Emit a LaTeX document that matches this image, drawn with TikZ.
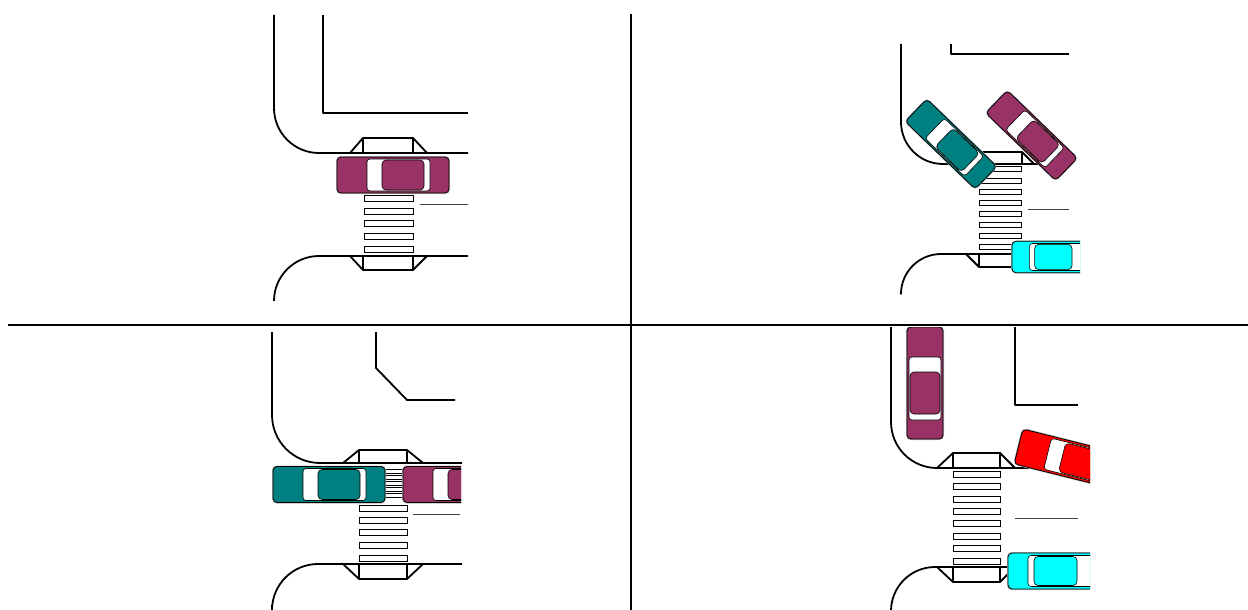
\documentclass[tikz,border=0pt]{standalone}
\usepackage{amsmath}
\usepackage{tikz}
\usepackage{xcolor}

\definecolor{carpurple}{RGB}{153,51,102}
\definecolor{carteal}{RGB}{0,128,128}
\definecolor{carcyan}{RGB}{0,255,255}
\definecolor{carred}{RGB}{255,0,0}

\begin{document}
\begin{tikzpicture}[x=1pt, y=-1pt,
                    curb/.style={line width=1.8pt, line join=round},
                    divider/.style={line width=2pt},
                    median/.style={line width=0.9pt, black!75},
                    stripe/.style={draw=black, fill=white, line width=0.8pt},
                    pics/sedan/.style={code={
                        \fill[gray!55, rounded corners=4.5] (-57,-19) rectangle (57,19);
                        \filldraw[fill=#1, draw=black, line width=0.8pt, rounded corners=4] (-56,-18) rectangle (56,18);
                        \filldraw[fill=white, draw=black, line width=0.6pt, rounded corners=3] (-26,-16) rectangle (37,16);
                        \filldraw[fill=#1, draw=black, line width=0.6pt, rounded corners=4] (-11,-15) rectangle (31,15);
                    }},
                    pics/wagon/.style={code={
                        \fill[gray!55, rounded corners=4.5] (-57,-19) rectangle (57,19);
                        \filldraw[fill=#1, draw=black, line width=0.8pt, rounded corners=4] (-56,-18) rectangle (56,18);
                        \filldraw[fill=white, draw=black, line width=0.6pt, rounded corners=3] (-36,-15.5) rectangle (30,15.5);
                        \filldraw[fill=#1, draw=black, line width=0.6pt, rounded corners=4] (-30,-14.5) rectangle (13,14.5);
                    }}]
                    \useasboundingbox (0,0) rectangle (1248,610);

                    \draw[divider] (631,14) -- (631,610);
                    \draw[divider] (8,325) -- (1248,325);

                    % upper left
                    \draw[curb, rounded corners=45] (274,15) -- (274,153) -- (468,153);
                    \draw[curb] (323,15) -- (323,113) -- (468,113);
                    \draw[curb] (350,153) -- (363,138) -- (413,138) -- (427,153) (363,138) -- (363,153) (413,138) -- (413,153);
                    \draw[curb, rounded corners=45] (274,301) -- (274,256) -- (468,256);
                    \draw[curb] (350,256) -- (363,270) -- (413,270) -- (427,256) (363,256) -- (363,270) (413,256) -- (413,270);
                    \foreach \y in {160,172,185,198,211,223,236,249}
                        \draw[stripe] (364,\y-3) rectangle (413,\y+3);
                    \draw[median] (420,204) -- (468,204);
                    \begin{scope}
                        \clip (0,0) rectangle (468,325);
                        \pic at (393,175) {sedan=carpurple};
                    \end{scope}

                    % upper right
                    \draw[curb, rounded corners=42] (901,44) -- (901,164) -- (1060,164);
                    \draw[curb] (951,44) -- (951,54) -- (1069,54);
                    \draw[curb] (968,164) -- (980,152) -- (1022,152) -- (1034,164) (980,152) -- (980,164) (1022,152) -- (1022,164);
                    \draw[curb, rounded corners=40] (901,293) -- (901,254) -- (1075,254);
                    \draw[curb] (966,254) -- (979,267) -- (1021,267) -- (1034,254) (979,254) -- (979,267) (1021,254) -- (1021,267);
                    \foreach \y in {169,181,192,203,214,225,236,247}
                        \draw[stripe] (979,\y-2.5) rectangle (1021,\y+2.5);
                    \draw[median] (1028,209) -- (1069,209);
                    \begin{scope}
                        \clip (640,0) rectangle (1080,325);
                        \pic[rotate=-44, scale=0.87] at (951,144) {sedan=carteal};
                        \pic[rotate=-44, scale=0.87] at (1031.5,135.5) {sedan=carpurple};
                        \pic[scale=0.87] at (1060.7,257) {wagon=carcyan};
                    \end{scope}

                    % lower left
                    \draw[curb, rounded corners=48] (272,332) -- (272,463) -- (462,463);
                    \draw[curb] (376,332) -- (376,368) -- (407,400) -- (455,400);
                    \draw[curb] (343,463) -- (359,450) -- (407,450) -- (423,463) (359,450) -- (359,463) (407,450) -- (407,463);
                    \draw[curb, rounded corners=46] (272,605) -- (272,564) -- (462,564);
                    \draw[curb] (343,564) -- (359,579) -- (407,579) -- (423,564) (359,564) -- (359,579) (407,564) -- (407,579);
                    \foreach \y in {471,477,483,489,495}
                        \draw[stripe] (359,\y-2) rectangle (407,\y+2);
                    \foreach \y in {508,520,532,545,558}
                        \draw[stripe] (359,\y-3) rectangle (407,\y+3);
                    \draw[median] (413,514) -- (460,514);
                    \begin{scope}
                        \clip (0,327) rectangle (461,610);
                        \pic at (329,484.5) {sedan=carteal};
                        \pic at (459,484.5) {sedan=carpurple};
                    \end{scope}

                    % lower right
                    \draw[curb, rounded corners=46] (891,327) -- (891,468) -- (1088,468);
                    \draw[curb] (1015,327) -- (1015,405) -- (1078,405);
                    \draw[curb] (937,468) -- (953,453) -- (1000,453) -- (1015,468) (953,453) -- (953,468) (1000,453) -- (1000,468);
                    \draw[curb, rounded corners=44] (891,610) -- (891,567) -- (1088,567);
                    \draw[curb] (937,567) -- (953,582) -- (1000,582) -- (1015,567) (953,567) -- (953,582) (1000,567) -- (1000,582);
                    \foreach \y in {474,486.5,499,511,523.5,536,548,561}
                        \draw[stripe] (953,\y-3) rectangle (1000,\y+3);
                    \draw[median] (1015,518) -- (1078,518);
                    \begin{scope}
                        \clip (640,327) rectangle (1090,610);
                        \pic[rotate=-90] at (925,383) {sedan=carpurple};
                        \pic[rotate=-14] at (1072.8,460) {sedan=carred};
                        \pic at (1064,571) {wagon=carcyan};
                    \end{scope}
                \end{tikzpicture}
\end{document}
